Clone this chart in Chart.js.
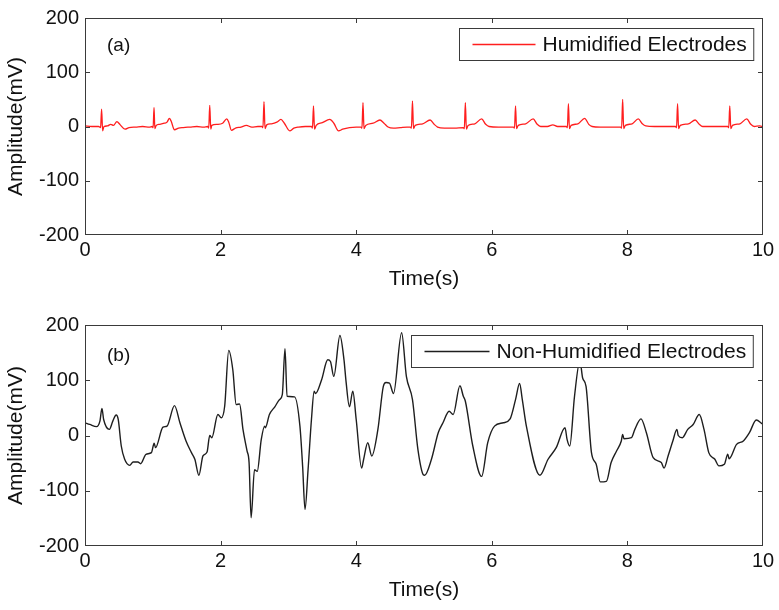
<!DOCTYPE html>
<html>
<head>
<meta charset="utf-8">
<script src="https://cdn.jsdelivr.net/npm/chart.js@4.4.1/dist/chart.umd.min.js"></script>
<style>
  body { margin: 0; background: #fff; }
  canvas { position: absolute; left: 0; }
</style>
</head>
<body>
<canvas id="chartA" width="779" height="305" style="top:0"></canvas>
<canvas id="chartB" width="779" height="305" style="top:305px"></canvas>
<script>
// (a) humidified electrodes, time in s / amplitude in mV
var timeA = [
  0, 0.1, 0.2, 0.23, 0.245, 0.26, 0.28, 0.33, 0.38, 0.42, 0.47, 0.52, 0.59, 0.65, 0.75, 0.85, 0.95,
  0.99, 1.005, 1.018, 1.03, 1.05, 1.10, 1.17, 1.21, 1.245, 1.27, 1.32, 1.38, 1.45, 1.55, 1.65, 1.75,
  1.81, 1.825, 1.84, 1.855, 1.87, 1.95, 2.03, 2.09, 2.12, 2.16, 2.22, 2.3, 2.38, 2.46, 2.55,
  2.61, 2.625, 2.64, 2.655, 2.68, 2.75, 2.83, 2.89, 2.94, 3.02, 3.08, 3.15, 3.25,
  3.34, 3.355, 3.37, 3.385, 3.41, 3.5, 3.61, 3.67, 3.74, 3.8, 3.9, 4.0,
  4.07, 4.085, 4.10, 4.115, 4.14, 4.25, 4.35, 4.41, 4.47, 4.55, 4.65, 4.75,
  4.80, 4.815, 4.83, 4.845, 4.87, 4.98, 5.09, 5.15, 5.2, 5.3, 5.45,
  5.58, 5.595, 5.61, 5.625, 5.65, 5.75, 5.85, 5.91, 5.96, 6.1, 6.25,
  6.32, 6.335, 6.35, 6.365, 6.39, 6.5, 6.61, 6.67, 6.72, 6.82, 6.9, 6.97,
  7.1, 7.115, 7.13, 7.145, 7.17, 7.27, 7.37, 7.43, 7.48, 7.6, 7.75,
  7.9, 7.915, 7.93, 7.945, 7.97, 8.07, 8.16, 8.22, 8.27, 8.4, 8.55,
  8.71, 8.725, 8.74, 8.755, 8.78, 8.9, 9.0, 9.06, 9.11, 9.25, 9.4,
  9.48, 9.495, 9.51, 9.525, 9.55, 9.66, 9.76, 9.82, 9.87, 9.95, 10
];
var ampA = [
  1, 0, 0, -2, 32, -8, 0, 1, 4, 2, 9, 3, -5, -2, -1, 0, -1,
  0, -2, 35, -4, 2, 4, 6, 8, 15, 10, -6, -3, -2, -1, 0, -1,
  0, -3, 39, -5, 2, 4, 6, 14, 8, -7, -3, -1, 2, -1, 0,
  0, -2, 46, -4, 3, 5, 8, 13, 6, -8, -3, -1, 0,
  0, -3, 38, -5, 2, 7, 13, 6, -8, -5, -2, -1,
  -1, -3, 44, -4, 2, 6, 12, 6, -1, -3, -2, -1,
  -1, -3, 47, -4, 2, 5, 12, 4, -1, -3, -3,
  -2, -4, 44, -5, 2, 5, 14, 4, 0, -1, -1,
  -1, -3, 38, -4, 2, 5, 14, 4, 0, 0, 3, 0,
  0, -2, 42, -4, 2, 5, 15, 4, 0, -1, -1,
  -1, -3, 50, -4, 2, 5, 14, 5, 1, 0, 0,
  0, -2, 42, -4, 2, 5, 12, 4, 0, 0, 0,
  0, -2, 38, -4, 2, 5, 14, 4, 0, 1, 0
];

// (b) non-humidified electrodes
var timeB = [
  0, 0.07, 0.17, 0.22, 0.25, 0.275, 0.36, 0.41, 0.46, 0.49, 0.535, 0.585, 0.66, 0.71, 0.78, 0.82,
  0.90, 0.98, 1.02, 1.04, 1.15, 1.21, 1.32, 1.40, 1.49, 1.57, 1.62, 1.68, 1.74, 1.80, 1.84, 1.87,
  1.96, 2.01, 2.06, 2.12, 2.18, 2.23, 2.28, 2.33, 2.39, 2.42, 2.45, 2.50, 2.54, 2.60, 2.65, 2.66,
  2.72, 2.80, 2.87, 2.91, 2.95, 2.98, 3.09, 3.17, 3.21, 3.245, 3.29, 3.34, 3.38, 3.40, 3.49, 3.58,
  3.62, 3.67, 3.76, 3.82, 3.85, 3.90, 3.95, 4.00, 4.08, 4.11, 4.17, 4.23, 4.32, 4.40, 4.44, 4.49,
  4.55, 4.67, 4.74, 4.83, 4.91, 4.99, 5.01, 5.11, 5.21, 5.28, 5.37, 5.43, 5.53, 5.58, 5.61, 5.72,
  5.85, 5.94, 6.04, 6.17, 6.27, 6.35, 6.41, 6.45, 6.51, 6.71, 6.83, 6.95, 7.08, 7.11, 7.15, 7.22,
  7.30, 7.34, 7.39, 7.47, 7.54, 7.60, 7.69, 7.76, 7.84, 7.91, 7.93, 7.95, 8.06, 8.11, 8.20, 8.28,
  8.38, 8.50, 8.54, 8.60, 8.67, 8.73, 8.75, 8.81, 8.89, 8.97, 9.06, 9.13, 9.20, 9.29, 9.35, 9.43,
  9.48, 9.50, 9.61, 9.71, 9.80, 9.90, 9.98, 10
];
var ampB = [
  23, 20, 16, 26, 49, 29, 11, 26, 37, 29, -19, -43, -54, -48, -48, -51,
  -34, -31, -14, -22, 15, 17, 54, 23, -10, -31, -43, -72, -37, -30, 0, -4,
  38, 32, 53, 154, 119, 56, 57, 11, -28, -49, -149, -62, -65, -7, 17, 14,
  38, 52, 65, 74, 157, 71, 70, 17, -56, -134, -62, 29, 80, 76, 101, 137,
  134, 107, 181, 137, 98, 52, 80, 29, -59, -43, -13, -37, 11, 89, 96, 95,
  76, 186, 107, 65, -25, -71, -72, -43, 5, 23, 44, 38, 90, 71, 62, -19,
  -74, -13, 17, 23, 30, 65, 94, 65, 17, -72, -43, -22, 14, -7, -19, 71,
  135, 104, 89, -31, -52, -84, -83, -49, -28, -10, 2, -6, -4, 11, 30, 5,
  -40, -49, -59, -37, -10, 11, 0, -4, 11, 20, 38, 11, -31, -43, -55, -52,
  -34, -42, -16, -10, 5, 28, 22, 20
];

var xTickVals = [0, 2, 4, 6, 8, 10];
var yTickVals = [-200, -100, 0, 100, 200];

var FONT = "'Liberation Sans', Arial, sans-serif";
var FRAME = '#3a3a3a';

// MATLAB-like box, inward ticks, panel tag and legend drawn over the line
var boxPlugin = {
  id: 'box',
  afterDatasetsDraw: function (chart, args, o) {
    var ctx = chart.ctx, a = chart.chartArea;
    var x = chart.scales.x, y = chart.scales.y;
    ctx.save();
    ctx.strokeStyle = FRAME;
    ctx.lineWidth = 1;
    ctx.strokeRect(a.left + 0.5, a.top + 0.5, a.width - 1, a.height - 1);
    ctx.beginPath();
    xTickVals.slice(1, -1).forEach(function (v) {
      var px = Math.round(x.getPixelForValue(v)) + 0.5;
      ctx.moveTo(px, a.bottom); ctx.lineTo(px, a.bottom - 5);
      ctx.moveTo(px, a.top); ctx.lineTo(px, a.top + 5);
    });
    yTickVals.slice(1, -1).forEach(function (v) {
      var py = Math.round(y.getPixelForValue(v)) + 0.5;
      ctx.moveTo(a.left, py); ctx.lineTo(a.left + 5, py);
      ctx.moveTo(a.right, py); ctx.lineTo(a.right - 5, py);
    });
    ctx.stroke();

    // panel tag
    ctx.fillStyle = '#111';
    ctx.font = '19px ' + FONT;
    ctx.textBaseline = 'middle';
    ctx.textAlign = 'left';
    ctx.fillText(o.tag, a.left + 22, a.top + o.tagDy);

    // legend
    var ds = chart.data.datasets[0];
    ctx.font = '21px ' + FONT;
    var tw = ctx.measureText(ds.label).width;
    var bw = 13 + o.sample + 7 + tw + 7, bh = 32;
    var bx = Math.round(a.right - 10 - bw) + 0.5, by = a.top + 10.5;
    ctx.fillStyle = '#fff';
    ctx.fillRect(bx, by, bw, bh);
    ctx.strokeStyle = FRAME;
    ctx.strokeRect(bx, by, bw, bh);
    ctx.strokeStyle = ds.borderColor;
    ctx.lineWidth = 1.3;
    ctx.beginPath();
    ctx.moveTo(bx + 13, by + bh / 2);
    ctx.lineTo(bx + 13 + o.sample, by + bh / 2);
    ctx.stroke();
    ctx.fillStyle = '#111';
    ctx.fillText(ds.label, bx + 13 + o.sample + 7, by + bh / 2 + 1);
    ctx.restore();
  }
};

function makeChart(id, times, amps, color, label, cfg) {
  var pts = times.map(function (t, i) { return { x: t, y: amps[i] }; });
  return new Chart(document.getElementById(id), {
    type: 'line',
    data: {
      datasets: [{
        label: label,
        data: pts,
        borderColor: color,
        borderWidth: cfg.lw,
        pointRadius: 0,
        cubicInterpolationMode: 'monotone'
      }]
    },
    options: {
      responsive: false,
      animation: false,
      layout: { padding: { top: cfg.top, right: 16, left: 0, bottom: 0 } },
      plugins: {
        legend: { display: false },
        tooltip: { enabled: false },
        box: { tag: cfg.tag, tagDy: cfg.tagDy, sample: cfg.sample }
      },
      scales: {
        x: {
          type: 'linear', min: 0, max: 10,
          afterFit: function (s) { s.height = cfg.xh; },
          afterBuildTicks: function (s) { s.ticks = xTickVals.map(function (v) { return { value: v }; }); },
          grid: { display: false, drawTicks: false },
          border: { display: false },
          ticks: { color: '#111', padding: 3, maxRotation: 0, font: { family: FONT, size: 20 } },
          title: { display: true, text: 'Time(s)', color: '#111', padding: { top: 0, bottom: cfg.titlePad },
                   font: { family: FONT, size: 21 } }
        },
        y: {
          min: -200, max: 200,
          afterFit: function (s) { s.width = 85; },
          afterBuildTicks: function (s) { s.ticks = yTickVals.map(function (v) { return { value: v }; }); },
          grid: { display: false, drawTicks: false },
          border: { display: false },
          ticks: { color: '#111', padding: 6, font: { family: FONT, size: 20 } },
          title: { display: true, text: 'Amplitude(mV)', color: '#111', padding: { top: 4, bottom: 0 },
                   font: { family: FONT, size: 21 } }
        }
      }
    },
    plugins: [boxPlugin]
  });
}

makeChart('chartA', timeA, ampA, '#ff1e1e', 'Humidified Electrodes',
  { top: 15, xh: 70, titlePad: 13, tag: '(a)', tagDy: 28, sample: 63, lw: 1.3 });
makeChart('chartB', timeB, ampB, '#1e1e1e', 'Non-Humidified Electrodes',
  { top: 20, xh: 64, titlePad: 7, tag: '(b)', tagDy: 31, sample: 65, lw: 1.4 });
</script>
</body>
</html>
